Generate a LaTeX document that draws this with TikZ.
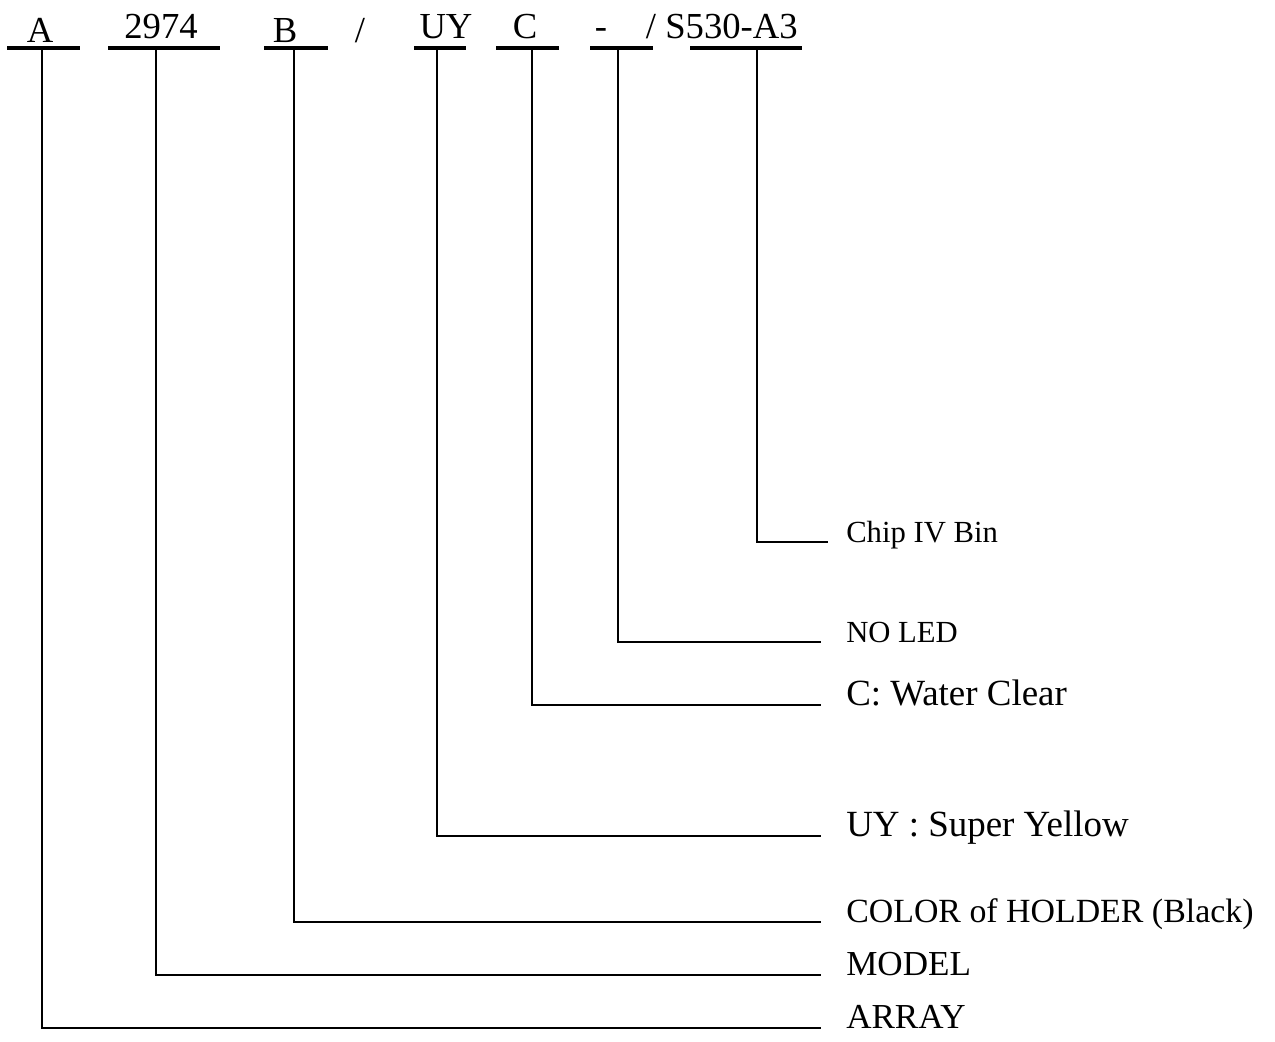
\documentclass[tikz,border=0pt]{standalone}
\usepackage{fontspec}
\setmainfont{Liberation Serif}
\begin{document}
\begin{tikzpicture}[x=0.75pt,y=-0.75pt,
  code/.style={anchor=base,inner sep=0pt,font=\fontsize{27.5}{30}\selectfont},
  bar/.style={line width=3.3pt},
  lead/.style={line width=1.5pt},
  lbl/.style={anchor=base west,inner sep=0pt,inner xsep=18.75pt},
  lblsmall/.style={lbl,font=\fontsize{23}{26}\selectfont},
  lblbig/.style={lbl,font=\fontsize{27.7}{30}\selectfont},
  lblthin/.style={lbl,font=\fontsize{26.3}{29}\selectfont}]
\useasboundingbox (0,0) rectangle (1275,1042);
% code letters
\node[code] (cA) at (40,42) {A};
\node[code] (c2974) at (161,38) {2974};
\node[code] (cB) at (285,42) {B};
\node[code] (cs1) at (360,42) {/};
\node[code] (cUY) at (446,38) {UY};
\node[code] (cC) at (525,38) {C};
\node[code] (cdash) at (601,38) {-};
\node[code] (cs2) at (651,38) {/};
\node[code] (cS) at (731.5,38) {S530-A3};
% bars
\coordinate (bAl) at (7,48);    \coordinate (bAr) at (80,48);
\coordinate (bMl) at (108,48);  \coordinate (bMr) at (220,48);
\coordinate (bBl) at (264,48);  \coordinate (bBr) at (328,48);
\coordinate (bUl) at (414,48);  \coordinate (bUr) at (466,48);
\coordinate (bCl) at (496,48);  \coordinate (bCr) at (559,48);
\coordinate (bDl) at (590,48);  \coordinate (bDr) at (653,48);
\coordinate (bSl) at (690,48);  \coordinate (bSr) at (802,48);
\draw[bar] (bAl) -- (bAr);
\draw[bar] (bMl) -- (bMr);
\draw[bar] (bBl) -- (bBr);
\draw[bar] (bUl) -- (bUr);
\draw[bar] (bCl) -- (bCr);
\draw[bar] (bDl) -- (bDr);
\draw[bar] (bSl) -- (bSr);
% tap points
\coordinate (tA) at (42,48);
\coordinate (tM) at (156,48);
\coordinate (tB) at (294,48);
\coordinate (tU) at (437,48);
\coordinate (tC) at (532,48);
\coordinate (tD) at (618,48);
\coordinate (tS) at (757,48);
% labels
\node[lblsmall,inner xsep=13.5pt] (lChip) at (828,542) {Chip IV Bin};
\node[lblsmall] (lNo) at (821,642) {NO LED};
\node[lblbig] (lWater) at (821,705) {C: Water Clear};
\node[lblbig] (lUY) at (821,836) {UY : Super Yellow};
\node[lblthin,font=\fontsize{25.4}{28}\selectfont] (lColor) at (821,922) {COLOR of HOLDER (Black)};
\node[lblthin] (lModel) at (821,975) {MODEL};
\node[lblthin] (lArray) at (821,1028) {ARRAY};
% leads
\draw[lead] (tS) |- (lChip.base west);
\draw[lead] (tD) |- (lNo.base west);
\draw[lead] (tC) |- (lWater.base west);
\draw[lead] (tU) |- (lUY.base west);
\draw[lead] (tB) |- (lColor.base west);
\draw[lead] (tM) |- (lModel.base west);
\draw[lead] (tA) |- (lArray.base west);
\end{tikzpicture}
\end{document}
